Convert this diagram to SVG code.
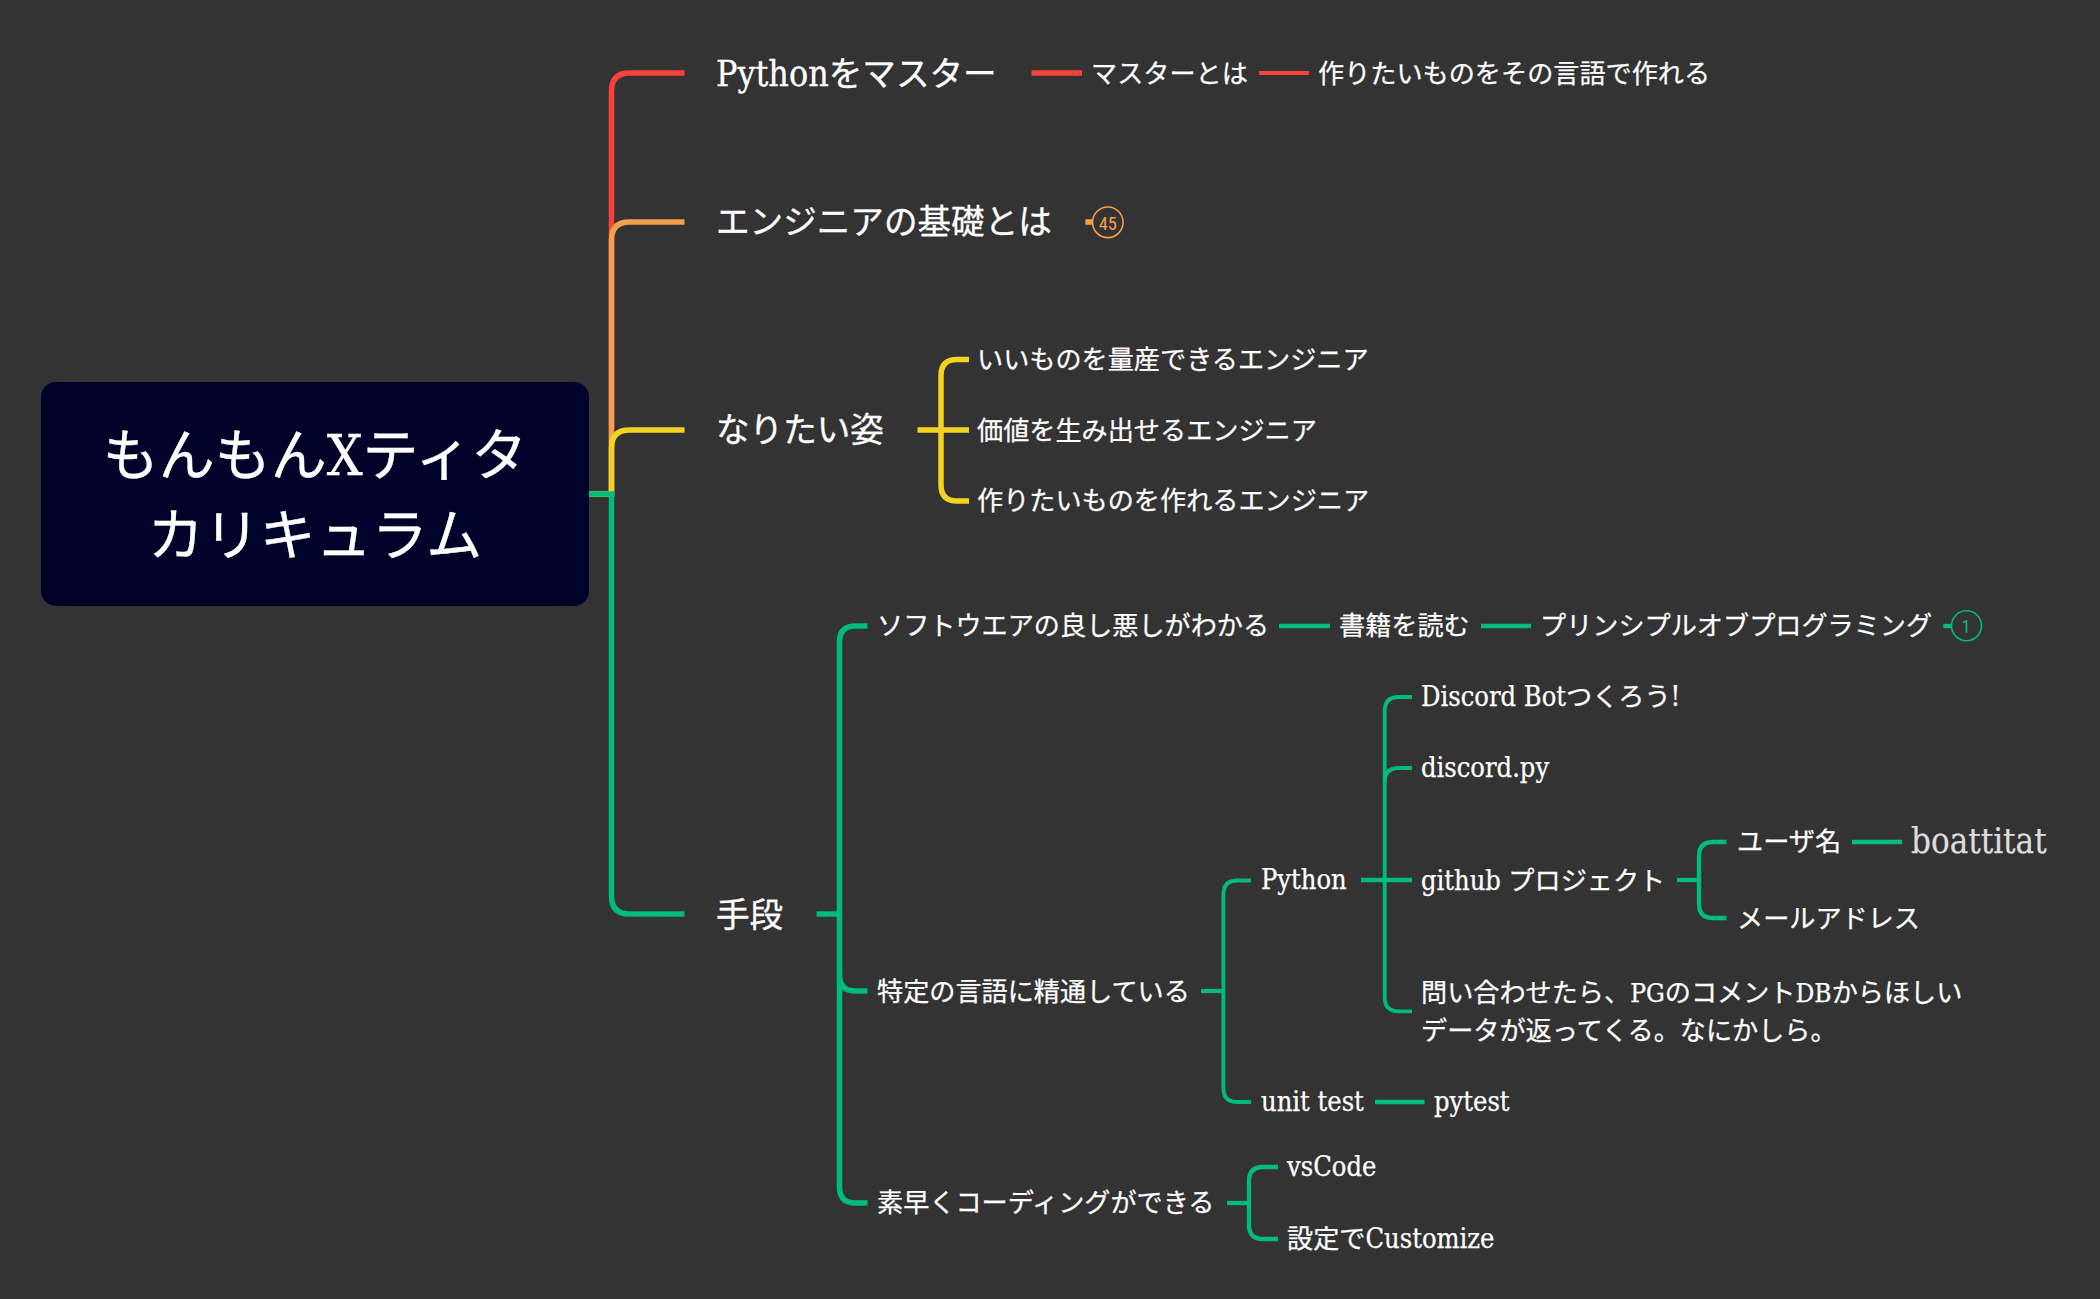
<svg xmlns="http://www.w3.org/2000/svg" width="2100" height="1299" viewBox="0 0 2100 1299">
<style>
text{font-family:"DejaVu Serif Condensed","DejaVu Serif","Noto Sans CJK JP",sans-serif;font-stretch:condensed;fill:#fff;stroke:#fff;stroke-width:.25}
.root{font-size:56px;text-anchor:middle;stroke-width:.4}
.l1{font-size:33.6px;stroke-width:.3}
.l2{font-size:26.15px}
.lat{font-size:27px}
.lat1{font-size:35.5px}
.c{fill:none;stroke-linejoin:miter}
.w5{stroke-width:5.5}
.w4{stroke-width:4.3}
.w3{stroke-width:3.8}
.r{stroke:#f9423a}.o{stroke:#f6a04d}.y{stroke:#f3d321}.g{stroke:#00bc7b}
.b{fill:none;stroke-width:1.6}
.n{font-family:Roboto,"Liberation Sans",sans-serif;font-weight:400;font-size:18.5px;text-anchor:middle;stroke:none}
</style>
<rect width="2100" height="1299" fill="#333"/>
<g id="connectors" class="c">
<path class="r w5 c" d="M589 494H611.5V91Q611.5 73 629.5 73H684.5"/>
<path class="o w5 c" d="M589 494H611.5V240Q611.5 222 629.5 222H684.5"/>
<path class="y w5 c" d="M589 494H611.5V448Q611.5 430 629.5 430H684.5"/>
<path class="g w5 c" d="M589 494H611.5V896Q611.5 914 629.5 914H684.5"/>
<path class="r w5 c" d="M1031.5 73H1082"/>
<path class="r w3 c" d="M1259 73H1309"/>
<path class="o w5 c" d="M1085.3 222H1093"/>
<path class="y w5 c" d="M917.5 430H969"/>
<path class="y w5 c" d="M969 359.5H957Q941 359.5 941 375.5V485Q941 501 957 501H969"/>
<path class="g w5 c" d="M816.5 914H839.5"/>
<path class="g w5 c" d="M867.5 626H855.5Q839.5 626 839.5 642V1187Q839.5 1203 855.5 1203H867.5"/>
<path class="g w5 c" d="M839.5 975Q839.5 991 855.5 991H867.5"/>
<path class="g w4 c" d="M1279 626H1330"/>
<path class="g w4 c" d="M1481 626H1531"/>
<path class="g w4 c" d="M1943.3 626H1952"/>
<path class="g w4 c" d="M1201 991H1223.4"/>
<path class="g w3 c" d="M1251 880.5H1237.4Q1223.4 880.5 1223.4 894.5V1088Q1223.4 1102 1237.4 1102H1251"/>
<path class="g w4 c" d="M1361 880H1412"/>
<path class="g w3 c" d="M1412 697H1398.7Q1384.7 697 1384.7 711V997.3Q1384.7 1011.3 1398.7 1011.3H1412"/>
<path class="g w3 c" d="M1384.7 782Q1384.7 768 1398.7 768H1412"/>
<path class="g w4 c" d="M1677 880H1699"/>
<path class="g w4 c" d="M1726.5 842H1713Q1699 842 1699 856V904Q1699 918 1713 918H1726.5"/>
<path class="g w4 c" d="M1852 842H1902"/>
<path class="g w4 c" d="M1375 1102H1424.5"/>
<path class="g w4 c" d="M1227 1203H1249"/>
<path class="g w4 c" d="M1278 1167H1263Q1249 1167 1249 1181V1225Q1249 1239 1263 1239H1278"/>
</g>
<g id="root"><rect x="41" y="382" width="548" height="224" rx="15" fill="#000229"/><text class="root" x="315" y="474.5">もんもんXティタ</text><text class="root" x="315" y="554.5">カリキュラム</text></g>
<g id="n-python-master"><text class="l1" x="716" y="86"><tspan class="lat1">Python</tspan>をマスター</text></g>
<g id="n-master"><text class="l2" x="1091" y="83">マスターとは</text></g>
<g id="n-make"><text class="l2" x="1318" y="83">作りたいものをその言語で作れる</text></g>
<g id="n-kiso"><text class="l1" x="716" y="234.3">エンジニアの基礎とは</text></g>
<g id="n-badge45"><circle class="b o" cx="1107.8" cy="222.3" r="15.3"/><text class="n" x="1107.8" y="230" style="fill:#f6a04d">45</text></g>
<g id="n-sugata"><text class="l1" x="716" y="442.3">なりたい姿</text></g>
<g id="n-s1"><text class="l2" x="977" y="369">いいものを量産できるエンジニア</text></g>
<g id="n-s2"><text class="l2" x="977" y="439.5">価値を生み出せるエンジニア</text></g>
<g id="n-s3"><text class="l2" x="977" y="510">作りたいものを作れるエンジニア</text></g>
<g id="n-shudan"><text class="l1" x="716" y="926.5">手段</text></g>
<g id="n-soft"><text class="l2" x="877" y="635">ソフトウエアの良し悪しがわかる</text></g>
<g id="n-book"><text class="l2" x="1339" y="635">書籍を読む</text></g>
<g id="n-pp"><text class="l2" x="1540" y="635">プリンシプルオブプログラミング</text></g>
<g id="n-badge1"><circle class="b g" cx="1966.5" cy="625.8" r="15"/><text class="n" x="1966" y="632.5" style="fill:#00bc7b">1</text></g>
<g id="n-lang"><text class="l2" x="877" y="1000.5">特定の言語に精通している</text></g>
<g id="n-python"><text class="l2 lat" x="1261" y="889">Python</text></g>
<g id="n-bot"><text class="l2" x="1421" y="706"><tspan class="lat">Discord Bot</tspan>つくろう<tspan class="lat">!</tspan></text></g>
<g id="n-dpy"><text class="l2 lat" x="1421" y="777">discord.py</text></g>
<g id="n-github"><text class="l2" x="1421" y="890"><tspan class="lat">github</tspan> プロジェクト</text></g>
<g id="n-user"><text class="l2" x="1737" y="851">ユーザ名</text></g>
<g id="n-boat"><text x="1911" y="853" font-size="34.6" style="fill:#ddd;stroke:#ddd">boattitat</text></g>
<g id="n-mail"><text class="l2" x="1737" y="928">メールアドレス</text></g>
<g id="n-q"><text class="l2" x="1421" y="1002">問い合わせたら、<tspan>PG</tspan>のコメント<tspan>DB</tspan>からほしい</text><text class="l2" x="1421" y="1040">データが返ってくる。なにかしら。</text></g>
<g id="n-unit"><text class="l2 lat" x="1261" y="1110.5">unit test</text></g>
<g id="n-pytest"><text class="l2 lat" x="1434" y="1110.5">pytest</text></g>
<g id="n-fast"><text class="l2" x="877" y="1212">素早くコーディングができる</text></g>
<g id="n-vs"><text class="l2 lat" x="1287" y="1176">vsCode</text></g>
<g id="n-custom"><text class="l2" x="1287" y="1248">設定で<tspan class="lat">Customize</tspan></text></g>
</svg>
